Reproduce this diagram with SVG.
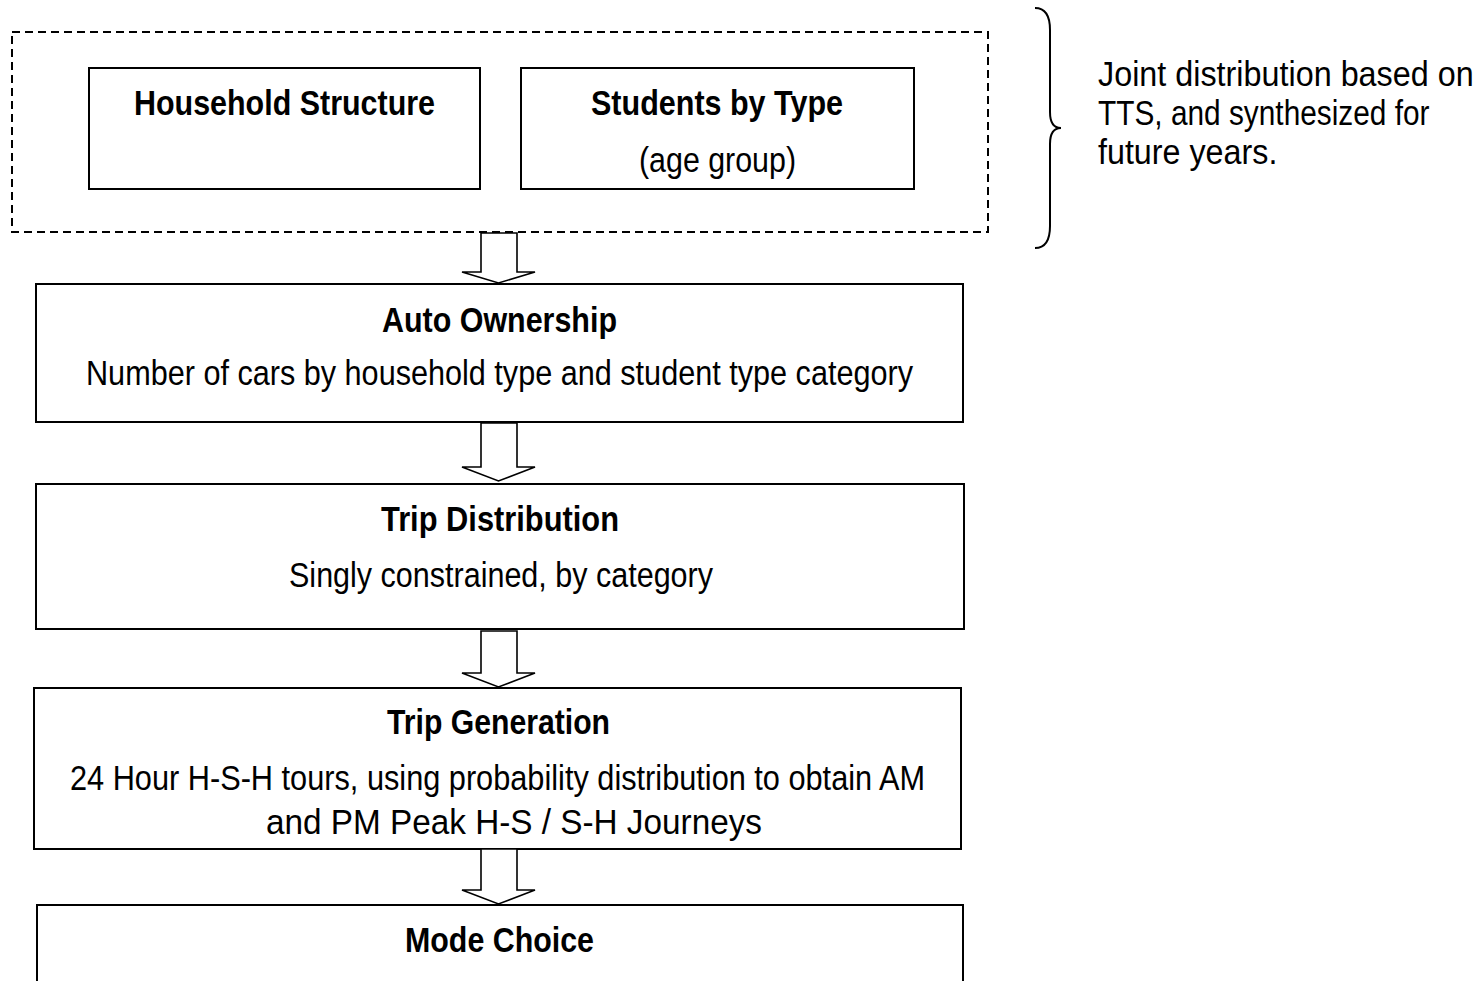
<svg xmlns="http://www.w3.org/2000/svg" width="1477" height="981" viewBox="0 0 1477 981">
<style>
text{font-family:"Liberation Sans Narrow","Arial Narrow","Liberation Sans",sans-serif;font-size:35.5px;fill:#000}
.b{font-weight:bold}
.box{fill:#fff;stroke:#000;stroke-width:2}
.dash{fill:none;stroke:#000;stroke-width:2;stroke-dasharray:8 5}
.arr{fill:#fff;stroke:#000;stroke-width:1.6;stroke-linejoin:miter}
.brace{fill:none;stroke:#000;stroke-width:2}
</style>
<rect width="1477" height="981" fill="#fff"/>
<g id="group-input">
<rect class="dash" x="12" y="32" width="976" height="200"/>
</g>
<g id="household">
<rect class="box" x="89" y="68" width="391" height="121"/>
<text class="b" x="134" y="115" textLength="301" lengthAdjust="spacingAndGlyphs">Household Structure</text>
</g>
<g id="students">
<rect class="box" x="521" y="68" width="393" height="121"/>
<text class="b" x="591" y="115" textLength="252" lengthAdjust="spacingAndGlyphs">Students by Type</text>
<text x="639" y="172" textLength="157" lengthAdjust="spacingAndGlyphs">(age group)</text>
</g>
<g id="note">
<path class="brace" d="M1035,8 Q1050,8 1050,30 L1050,112 Q1050,128 1061,128 Q1050,128 1050,144 L1050,226 Q1050,248 1035,248"/>
<g transform="translate(1098,0) scale(0.85,1)">
<text x="0" y="86" textLength="442" lengthAdjust="spacingAndGlyphs">Joint distribution based on</text>
<text x="0" y="125" textLength="390" lengthAdjust="spacingAndGlyphs">TTS, and synthesized for</text>
<text x="0" y="164" textLength="211" lengthAdjust="spacingAndGlyphs">future years.</text>
</g>
</g>
<g id="auto">
<rect class="box" x="36" y="284" width="927" height="138"/>
<text class="b" x="382" y="332" textLength="235" lengthAdjust="spacingAndGlyphs">Auto Ownership</text>
<text x="86" y="385" textLength="827" lengthAdjust="spacingAndGlyphs">Number of cars by household type and student type category</text>
</g>
<g id="tripdist">
<rect class="box" x="36" y="484" width="928" height="145"/>
<text class="b" x="381" y="531" textLength="238" lengthAdjust="spacingAndGlyphs">Trip Distribution</text>
<text x="289" y="587" textLength="424" lengthAdjust="spacingAndGlyphs">Singly constrained, by category</text>
</g>
<g id="tripgen">
<rect class="box" x="34" y="688" width="927" height="161"/>
<text class="b" x="387" y="734" textLength="223" lengthAdjust="spacingAndGlyphs">Trip Generation</text>
<text x="70" y="790" textLength="855" lengthAdjust="spacingAndGlyphs">24 Hour H-S-H tours, using probability distribution to obtain AM</text>
<text x="266" y="834" textLength="496" lengthAdjust="spacingAndGlyphs">and PM Peak H-S / S-H Journeys</text>
</g>
<g id="mode">
<rect class="box" x="37" y="905" width="926" height="100"/>
<text class="b" x="405" y="952" textLength="189" lengthAdjust="spacingAndGlyphs">Mode Choice</text>
</g>
<g id="connectors">
<path class="arr" d="M481,233 L517,233 L517,272 L535,272 L498.5,283 L462,272 L481,272 Z"/>
<path class="arr" d="M481,423 L517,423 L517,467 L535,467 L498.5,481 L462,467 L481,467 Z"/>
<path class="arr" d="M481,631 L517,631 L517,673 L535,673 L498.5,687 L462,673 L481,673 Z"/>
<path class="arr" d="M481,849 L517,849 L517,890 L535,890 L498.5,904 L462,890 L481,890 Z"/>
</g>
</svg>
